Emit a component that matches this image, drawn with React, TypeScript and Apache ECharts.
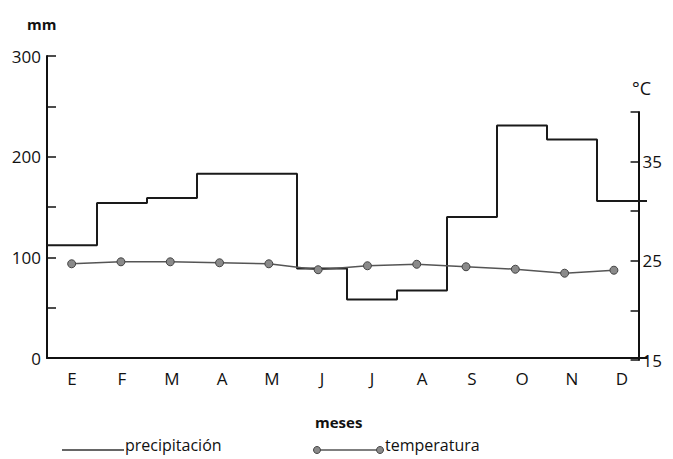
import React, { useEffect, useRef } from "react";
import * as echarts from "echarts";

const months = ["E", "F", "M", "A", "M", "J", "J", "A", "S", "O", "N", "D"];
const precipitation = [112, 154, 159, 183, 183, 89, 58, 67, 140, 231, 217, 156];
const temperature = [24.7, 24.9, 24.9, 24.8, 24.7, 24.1, 24.5, 24.65, 24.4, 24.15, 23.75, 24.05];
const mmLabels = [0, 100, 200, 300];
const tempLabels = [15, 25, 35];

const FONT = "Open Sans";

export default function App() {
  const ref = useRef<HTMLDivElement>(null);
  useEffect(() => {
    if (!ref.current) return;
    const chart = echarts.init(ref.current, null, { renderer: "svg" });
    const stepData = precipitation.map((v, i) => [i, v]);
    stepData.push([precipitation.length, precipitation[precipitation.length - 1]]);
    chart.setOption({
      animation: false,
      backgroundColor: "#fff",
      textStyle: { fontFamily: FONT },
      grid: [
        { left: 39, right: 18, top: 48, bottom: 101 },
        { left: 39, right: 18, top: 104, bottom: 99 },
      ],
      xAxis: [
        {
          type: "category",
          gridIndex: 0,
          data: months,
          boundaryGap: true,
          axisLine: { lineStyle: { color: "#111", width: 2 } },
          axisTick: { inside: true, length: 12, interval: 0, lineStyle: { color: "#111", width: 2 } },
          axisLabel: { color: "#111", fontSize: 17, margin: 12, interval: 0, fontFamily: FONT },
          splitLine: { show: false },
        },
        { type: "value", gridIndex: 0, min: 0, max: months.length, show: false },
        { type: "category", gridIndex: 1, data: months, boundaryGap: true, show: false },
      ],
      yAxis: [
        {
          type: "value",
          gridIndex: 0,
          min: 0,
          max: 300,
          interval: 50,
          axisLine: { show: true, lineStyle: { color: "#111", width: 2 } },
          axisTick: { show: true, inside: true, length: 9, lineStyle: { color: "#111", width: 1.5 } },
          axisLabel: {
            color: "#111",
            fontSize: 17,
            margin: 6,
            fontFamily: FONT,
            formatter: (v: number) => (mmLabels.includes(v) ? String(v) : ""),
          },
          splitLine: { show: false },
        },
        {
          type: "value",
          gridIndex: 1,
          position: "right",
          min: 15,
          max: 40,
          interval: 5,
          axisLine: { show: true, lineStyle: { color: "#111", width: 2 } },
          axisTick: { show: true, inside: true, length: 8, lineStyle: { color: "#111", width: 1.5 } },
          axisLabel: {
            color: "#111",
            fontSize: 17,
            margin: 4,
            fontFamily: FONT,
            formatter: (v: number) => (tempLabels.includes(v) ? String(v) : ""),
          },
          splitLine: { show: false },
        },
      ],
      series: [
        {
          name: "precipitación",
          type: "line",
          xAxisIndex: 1,
          yAxisIndex: 0,
          step: "end",
          data: stepData,
          symbol: "none",
          lineStyle: { color: "#1a1a1a", width: 2 },
        },
        {
          name: "temperatura",
          type: "line",
          xAxisIndex: 2,
          yAxisIndex: 1,
          data: temperature,
          symbol: "circle",
          symbolSize: 8,
          itemStyle: { color: "#8a8a8a", borderColor: "#444", borderWidth: 1 },
          lineStyle: { color: "#555", width: 1.5 },
        },
      ],
      graphic: [
        { type: "text", left: 19, top: 8, style: { text: "mm", fontSize: 15, fontWeight: "bold", fill: "#111", fontFamily: FONT } },
        { type: "text", left: 624, top: 71, style: { text: "°C", fontSize: 18, fill: "#111", fontFamily: FONT } },
        { type: "text", left: 307, top: 406, style: { text: "meses", fontSize: 15, fontWeight: "bold", fill: "#111", fontFamily: FONT } },
        { type: "line", shape: { x1: 54, y1: 442, x2: 116, y2: 442 }, style: { stroke: "#333", lineWidth: 1.5 } },
        { type: "text", left: 117, top: 429, style: { text: "precipitación", fontSize: 16, fill: "#111", fontFamily: FONT } },
        { type: "line", shape: { x1: 309, y1: 442, x2: 372, y2: 442 }, style: { stroke: "#555", lineWidth: 1.5 } },
        { type: "circle", shape: { cx: 309, cy: 442, r: 3.5 }, style: { fill: "#8a8a8a", stroke: "#444", lineWidth: 1 } },
        { type: "circle", shape: { cx: 372, cy: 442, r: 3.5 }, style: { fill: "#8a8a8a", stroke: "#444", lineWidth: 1 } },
        { type: "text", left: 377, top: 429, style: { text: "temperatura", fontSize: 16, fill: "#111", fontFamily: FONT } },
      ],
    });
    return () => chart.dispose();
  }, []);
  return <div ref={ref} style={{ width: 657, height: 451 }} />;
}
